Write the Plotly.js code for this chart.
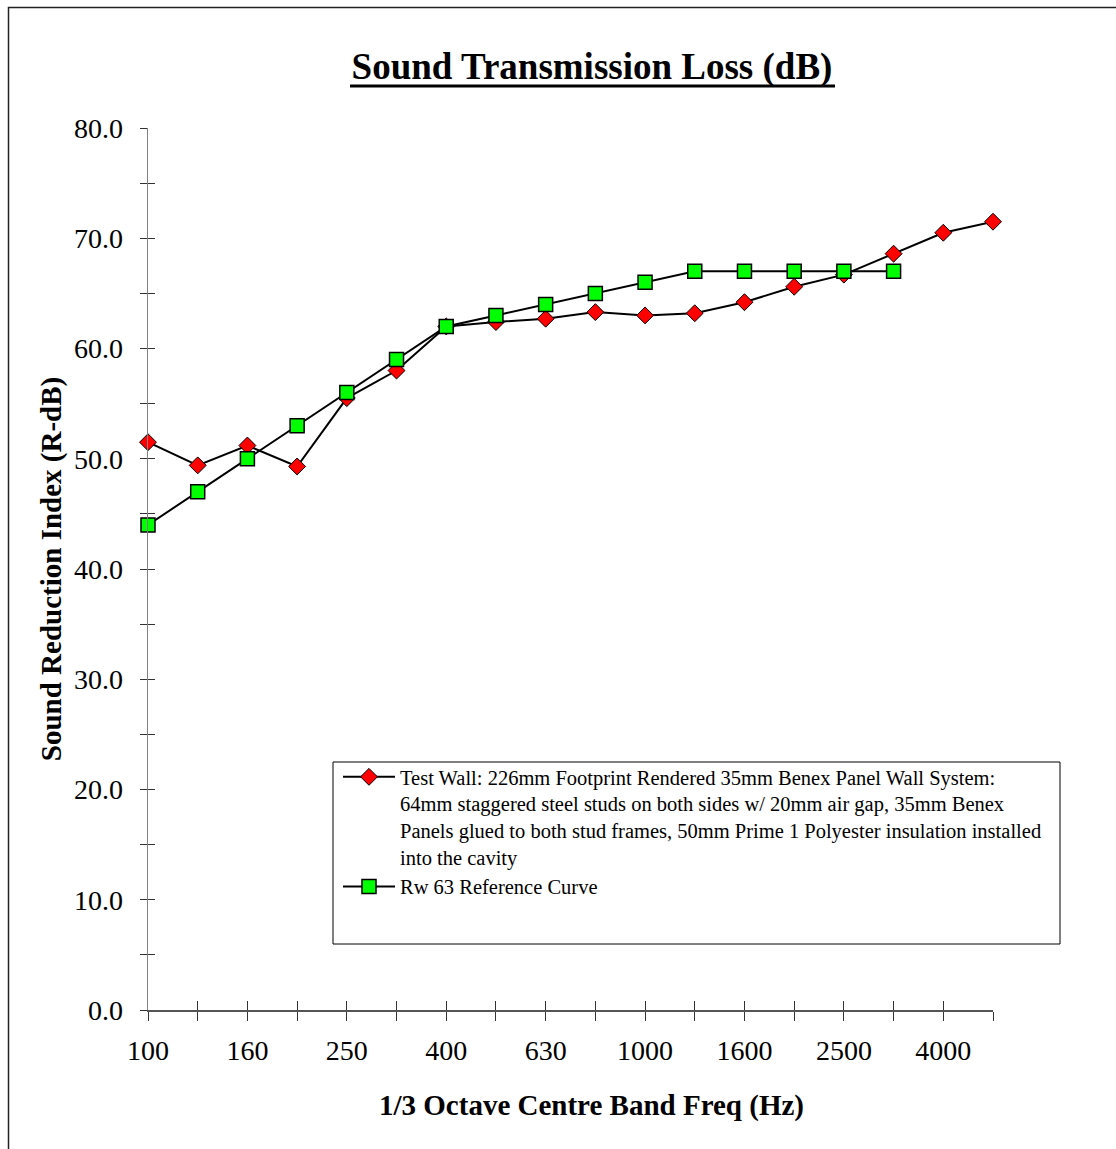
<!DOCTYPE html>
<html>
<head>
<meta charset="utf-8">
<script src="https://cdn.plot.ly/plotly-3.0.1.min.js"></script>
<style>html,body{margin:0;padding:0;background:#fff;}#chart{width:1116px;height:1149px;}</style>
</head>
<body>
<div id="chart"></div>
<script>
const freqs = ['100','125','160','200','250','315','400','500','630','800','1000','1250','1600','2000','2500','3150','4000','5000'];
const tickLabels = ['100','','160','','250','','400','','630','','1000','','1600','','2500','','4000',''];
const testWall = [51.5,49.4,51.2,49.3,55.5,58.0,62.0,62.4,62.7,63.3,63.0,63.2,64.2,65.6,66.7,68.6,70.5,71.5];
const refFreqs = freqs.slice(0,16);
const refCurve = [44,47,50,53,56,59,62,63,64,65,66,67,67,67,67,67];
const testName = 'Test Wall: 226mm Footprint Rendered 35mm Benex Panel Wall System:<br>64mm staggered steel studs on both sides w/ 20mm air gap, 35mm Benex<br>Panels glued to both stud frames, 50mm Prime 1 Polyester insulation installed<br>into the cavity';
const refName = 'Rw 63 Reference Curve';

const F = '"Liberation Serif", "Times New Roman", serif';
const traces = [
  {x: freqs, y: testWall, name: testName, type: 'scatter', mode: 'lines+markers', cliponaxis: false,
   line: {color: '#000', width: 2},
   marker: {symbol: 'diamond', size: 13, color: '#ff0000', line: {color: '#000', width: 1}}},
  {x: refFreqs, y: refCurve, name: refName, type: 'scatter', mode: 'lines+markers', cliponaxis: false,
   line: {color: '#000', width: 2},
   marker: {symbol: 'square', size: 14, color: '#00ff00', line: {color: '#000', width: 1.5}}},
  {x: freqs, y: testWall, yaxis: 'y2', xaxis: 'x2', type: 'scatter', mode: 'none', showlegend: false, hoverinfo: 'skip'}
];

const pxX = p => (p - 148) / 845;
const pxY = p => (1010 - p) / 882;

const layout = {
  width: 1116, height: 1149,
  margin: {l: 148, r: 123, t: 128, b: 139},
  paper_bgcolor: '#fff', plot_bgcolor: '#fff',
  font: {family: F, color: '#000'},
  title: {text: '<b>Sound Transmission Loss (dB)</b>', font: {family: F, size: 37, color: '#000'},
          x: 592/1116, xref: 'container', xanchor: 'center', y: 1 - 66/1149, yref: 'container', yanchor: 'middle'},
  xaxis: {type: 'category', categoryorder: 'array', categoryarray: freqs,
          range: [0, 17], tickmode: 'array', tickvals: freqs, ticktext: tickLabels,
          showgrid: false, zeroline: false, showline: true, linecolor: '#555', linewidth: 1.5,
          ticks: 'outside', ticklen: 9, tickcolor: '#333', tickwidth: 1,
          tickfont: {family: F, size: 28, color: '#000'}, ticklabelstandoff: 6,
          fixedrange: true},
  xaxis2: {type: 'category', categoryorder: 'array', categoryarray: freqs, overlaying: 'x', anchor: 'y2', side: 'bottom',
          range: [0, 17], tickmode: 'array', tickvals: freqs, showticklabels: false,
          showgrid: false, zeroline: false, showline: false,
          ticks: 'inside', ticklen: 9, tickcolor: '#333', tickwidth: 1, fixedrange: true},
  yaxis: {range: [0, 80], tickmode: 'linear', tick0: 0, dtick: 10, tickformat: '.1f',
          showgrid: false, zeroline: false, showline: true, linecolor: '#808080', linewidth: 1.5,
          ticks: 'outside', ticklen: 7, tickcolor: '#333', tickwidth: 1,
          minor: {dtick: 5, ticks: 'outside', ticklen: 7, tickcolor: '#333', showgrid: false},
          tickfont: {family: F, size: 28, color: '#000'}, ticklabelstandoff: 11,
          title: {text: '<b>Sound Reduction Index (R-dB)</b>', font: {family: F, size: 29, color: '#000'}, standoff: 4},
          fixedrange: true},
  yaxis2: {overlaying: 'y', anchor: 'x2', side: 'left', range: [0, 80], tickmode: 'linear', tick0: 0, dtick: 5,
           showticklabels: false, showgrid: false, zeroline: false, showline: false,
           ticks: 'inside', ticklen: 7, tickcolor: '#333', tickwidth: 1, fixedrange: true},
  showlegend: true,
  legend: {x: pxX(338), y: pxY(757), xanchor: 'left', yanchor: 'top', bgcolor: 'rgba(0,0,0,0)',
           borderwidth: 0, font: {family: F, size: 20.5, color: '#000'}, tracegroupgap: 0, itemwidth: 52, valign: 'top'},
  annotations: [
    {text: '<b>1/3 Octave Centre Band Freq (Hz)</b>', xref: 'paper', yref: 'paper', x: pxX(591), y: pxY(1105),
     xanchor: 'center', yanchor: 'middle', showarrow: false, font: {family: F, size: 29, color: '#000'}}
  ],
  shapes: [
    {type: 'rect', xref: 'paper', yref: 'paper', x0: pxX(333), x1: pxX(1060), y0: pxY(944), y1: pxY(762),
     line: {color: '#000', width: 1}, fillcolor: 'rgba(0,0,0,0)', layer: 'below'},
    {type: 'line', xref: 'paper', yref: 'paper', x0: pxX(350), x1: pxX(835), y0: pxY(86), y1: pxY(86),
     line: {color: '#000', width: 3}},
    {type: 'rect', xref: 'paper', yref: 'paper', x0: pxX(8.5), x1: pxX(1300), y0: pxY(1300), y1: pxY(7.5),
     line: {color: '#222', width: 1.5}, fillcolor: 'rgba(0,0,0,0)'}
  ]
};

Plotly.newPlot('chart', traces, layout, {displayModeBar: false, staticPlot: true});
</script>
</body>
</html>
